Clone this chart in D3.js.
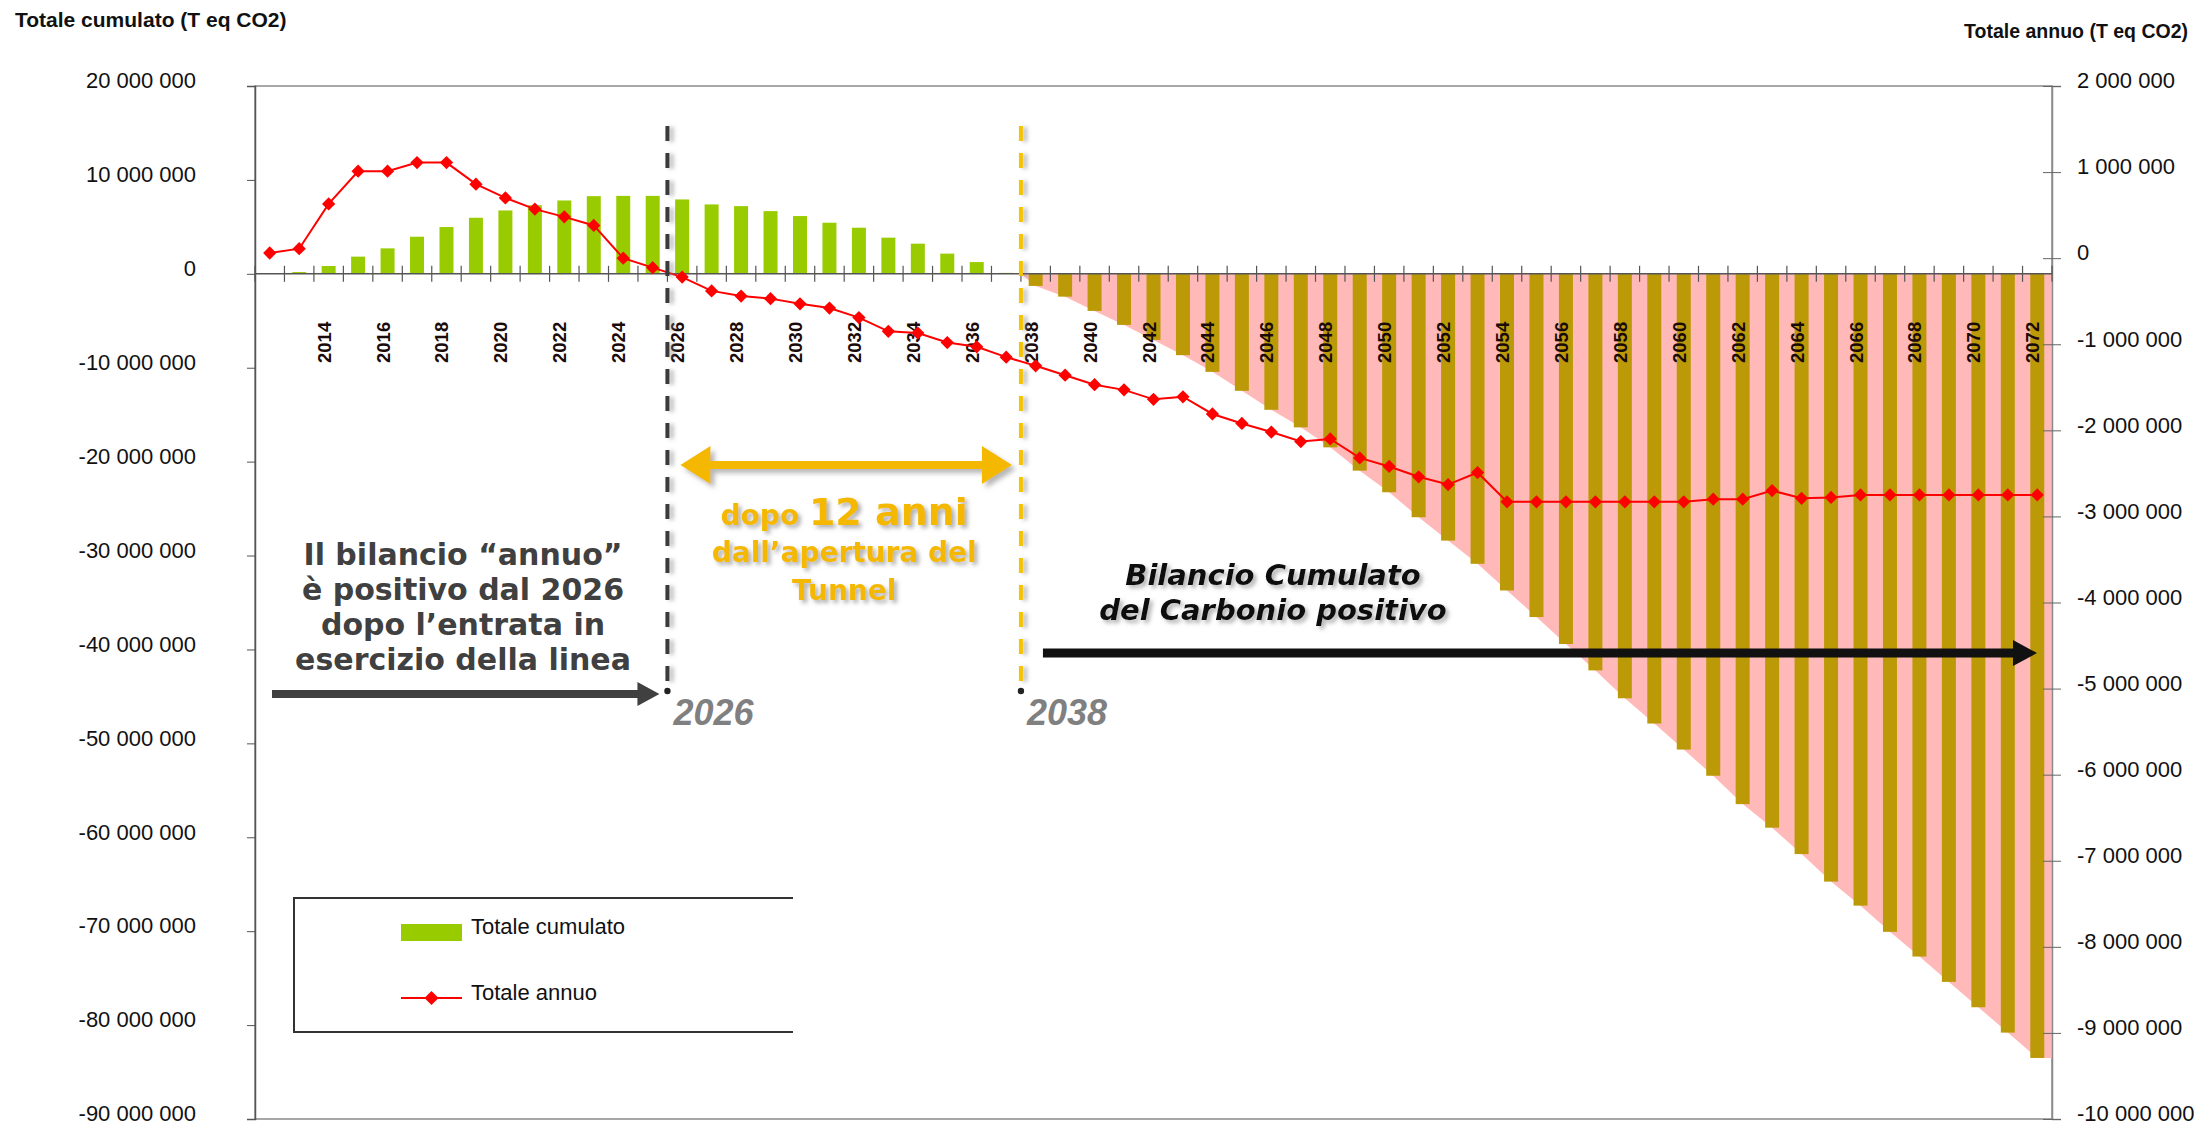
<!DOCTYPE html>
<html>
<head>
<meta charset="utf-8">
<script src="https://cdn.jsdelivr.net/npm/d3@7"></script>
<style>
  html, body { margin: 0; padding: 0; background: #fff; }
  svg { display: block; }
</style>
</head>
<body>
<svg id="chart" width="2209" height="1127"></svg>
<script>
// Categorie: anni
const years = [
  2012, 2013, 2014, 2015, 2016, 2017, 2018, 2019, 2020, 2021,
  2022, 2023, 2024, 2025, 2026, 2027, 2028, 2029, 2030, 2031,
  2032, 2033, 2034, 2035, 2036, 2037, 2038, 2039, 2040, 2041,
  2042, 2043, 2044, 2045, 2046, 2047, 2048, 2049, 2050, 2051,
  2052, 2053, 2054, 2055, 2056, 2057, 2058, 2059, 2060, 2061,
  2062, 2063, 2064, 2065, 2066, 2067, 2068, 2069, 2070, 2071, 2072
];

// Totale cumulato (T eq CO2) - asse sinistro
const totaleCumulato = [
  50000, 190000, 830000, 1830000, 2710000, 3950000, 4980000, 5970000, 6750000, 7300000,
  7810000, 8270000, 8300000, 8300000, 7920000, 7390000, 7210000, 6680000, 6150000, 5440000,
  4910000, 3850000, 3210000, 2150000, 1250000, 100000, -1290000, -2430000, -3950000, -5440000,
  -7040000, -8660000, -10440000, -12460000, -14480000, -16350000, -18480000, -20960000, -23260000, -25920000,
  -28410000, -30880000, -33720000, -36550000, -39420000, -42230000, -45200000, -47890000, -50660000, -53450000,
  -56470000, -58980000, -61790000, -64720000, -67280000, -70070000, -72700000, -75400000, -78100000, -80800000, -83500000
];

// Totale annuo (T eq CO2) - asse destro
const totaleAnnuo = [
  60000, 110000, 630000, 1010000, 1010000, 1110000, 1110000, 860000, 700000, 570000,
  480000, 380000, 0, -110000, -220000, -380000, -440000, -470000, -530000, -580000,
  -690000, -850000, -870000, -980000, -1030000, -1150000, -1250000, -1360000, -1470000, -1530000,
  -1640000, -1610000, -1810000, -1920000, -2020000, -2130000, -2100000, -2320000, -2420000, -2540000,
  -2630000, -2490000, -2830000, -2830000, -2830000, -2830000, -2830000, -2830000, -2830000, -2800000,
  -2800000, -2700000, -2790000, -2780000, -2750000, -2750000, -2750000, -2750000, -2750000, -2750000, -2750000
];

const leftTicks = [20000000, 10000000, 0, -10000000, -20000000, -30000000, -40000000,
                   -50000000, -60000000, -70000000, -80000000, -90000000];
const rightTicks = [2000000, 1000000, 0, -1000000, -2000000, -3000000, -4000000,
                    -5000000, -6000000, -7000000, -8000000, -9000000, -10000000];
const xTickYears = [2014, 2016, 2018, 2020, 2022, 2024, 2026, 2028, 2030, 2032,
                    2034, 2036, 2038, 2040, 2042, 2044, 2046, 2048, 2050, 2052,
                    2054, 2056, 2058, 2060, 2062, 2064, 2066, 2068, 2070, 2072];
const milestoneYears = [2026, 2038];

// ---- layout ----
const W = 2209, H = 1127;
const P = { left: 255, right: 2052, top: 86, bottom: 1119 };

const svg = d3.select("#chart");
const x = d3.scaleBand().domain(years).range([P.left, P.right]);
const yL = d3.scaleLinear().domain([-90000000, 20000000]).range([P.bottom, P.top]);
const yR = d3.scaleLinear().domain([-10000000, 2000000]).range([P.bottom, P.top]);
const cx = d => x(d) + x.bandwidth() / 2;
const val = (arr, yr) => arr[years.indexOf(yr)];

const itLocale = d3.formatLocale({ decimal: ",", thousands: " ", grouping: [3], currency: ["", " €"], minus: "-" });
const fmt = itLocale.format(",d");

const AXIS_FONT = "'Liberation Sans', Arial, sans-serif";
const NOTE_FONT = "'DejaVu Sans', Verdana, sans-serif";

// ---- filters (soft shadows of the annotations) ----
const defs = svg.append("defs");
function shadow(id, dx, dy, sd, op) {
  const f = defs.append("filter").attr("id", id)
    .attr("filterUnits", "userSpaceOnUse")
    .attr("x", 0).attr("y", 0).attr("width", W).attr("height", H);
  f.append("feDropShadow").attr("dx", dx).attr("dy", dy)
    .attr("stdDeviation", sd).attr("flood-color", "#7a7a7a").attr("flood-opacity", op);
}
shadow("shLine", 4, 1, 2, 0.55);
shadow("shText", 3, 3, 2, 0.6);
shadow("shArrow", 4, 4, 2.5, 0.55);

// ---- titles ----
svg.append("text").attr("x", 15).attr("y", 27)
  .attr("font-family", AXIS_FONT).attr("font-weight", "bold").attr("font-size", 21)
  .attr("fill", "#111").text("Totale cumulato (T eq CO2)");
svg.append("text").attr("x", 2188).attr("y", 38).attr("text-anchor", "end")
  .attr("font-family", AXIS_FONT).attr("font-weight", "bold").attr("font-size", 19.5)
  .attr("fill", "#111").text("Totale annuo (T eq CO2)");

// ---- plot frame ----
svg.append("rect")
  .attr("x", P.left).attr("y", P.top)
  .attr("width", P.right - P.left).attr("height", P.bottom - P.top)
  .attr("fill", "none").attr("stroke", "#8a8a8a").attr("stroke-width", 1.5);

// ---- pink area under the negative cumulative balance ----
const negYears = years.filter(yr => val(totaleCumulato, yr) < 0);
const lastYear = years[years.length - 1];
const areaPts = [{ px: x(negYears[0]), v: 0 }]
  .concat(negYears.map(yr => ({ px: cx(yr), v: val(totaleCumulato, yr) })))
  .concat([{ px: P.right, v: val(totaleCumulato, lastYear) }]);
svg.append("path")
  .datum(areaPts)
  .attr("fill", "#ffb9b9")
  .attr("d", d3.area().x(d => d.px).y0(yL(0)).y1(d => yL(d.v)));

// ---- cumulative bars ----
const barW = 14;
svg.append("g").selectAll("rect")
  .data(years)
  .join("rect")
  .attr("x", d => cx(d) - barW / 2)
  .attr("width", barW)
  .attr("y", d => yL(Math.max(0, val(totaleCumulato, d))))
  .attr("height", d => Math.abs(yL(val(totaleCumulato, d)) - yL(0)))
  .attr("fill", d => val(totaleCumulato, d) >= 0 ? "#99cc00" : "#bc9a07");

// ---- left axis ----
const gL = svg.append("g").attr("transform", `translate(${P.left},0)`)
  .call(d3.axisLeft(yL).tickValues(leftTicks).tickFormat(fmt).tickSize(8).tickPadding(51));
gL.select(".domain").attr("stroke", "#555").attr("stroke-width", 1.5);
gL.selectAll(".tick line").attr("stroke", "#555");
gL.selectAll(".tick text").attr("dy", "0.08em")
  .attr("font-family", AXIS_FONT).attr("font-size", 22).attr("fill", "#111");

// ---- right axis ----
const gR = svg.append("g").attr("transform", `translate(${P.right},0)`)
  .call(d3.axisRight(yR).tickValues(rightTicks).tickFormat(fmt).tickSize(9).tickPadding(16));
gR.select(".domain").attr("stroke", "#8a8a8a").attr("stroke-width", 1.5);
gR.selectAll(".tick line").attr("x1", -9).attr("stroke", "#666");
gR.selectAll(".tick text").attr("dy", "0.08em")
  .attr("font-family", AXIS_FONT).attr("font-size", 22).attr("fill", "#111");

// ---- category axis at zero of the cumulative scale ----
const y0 = yL(0);
svg.append("line").attr("x1", P.left).attr("x2", P.right).attr("y1", y0).attr("y2", y0)
  .attr("stroke", "#555").attr("stroke-width", 1.5);
const boundaries = years.map(yr => x(yr)).concat([P.right]);
svg.append("g").selectAll("line").data(boundaries).join("line")
  .attr("x1", d => d).attr("x2", d => d)
  .attr("y1", y0 - 8).attr("y2", y0 + 8)
  .attr("stroke", "#555").attr("stroke-width", 1.2);

const gX = svg.append("g").attr("transform", `translate(0,${y0})`)
  .call(d3.axisBottom(x).tickValues(xTickYears).tickSize(0).tickPadding(0));
gX.select(".domain").remove();
gX.selectAll(".tick text")
  .attr("transform", "rotate(-90)")
  .attr("x", -48).attr("y", 2).attr("dy", 0)
  .attr("text-anchor", "end")
  .attr("font-family", AXIS_FONT).attr("font-weight", "bold").attr("font-size", 18.5)
  .attr("fill", "#1a0a0a");

// ---- annual balance line ----
svg.append("path")
  .datum(years)
  .attr("fill", "none").attr("stroke", "#ff0000").attr("stroke-width", 2)
  .attr("d", d3.line().x(d => cx(d)).y(d => yR(val(totaleAnnuo, d))));
svg.append("g").selectAll("path").data(years).join("path")
  .attr("d", d3.symbol(d3.symbolSquare, 88)())
  .attr("transform", d => `translate(${cx(d)},${yR(val(totaleAnnuo, d))}) rotate(45)`)
  .attr("fill", "#ff0000");

// ---- milestone dashed lines ----
const [yOpen, yPayback] = milestoneYears;
const lineTop = 126, lineBottom = 683, dotY = 691;
const msColor = ["#3a3a3a", "#f5c400"];
milestoneYears.forEach((yr, i) => {
  svg.append("line")
    .attr("x1", x(yr)).attr("x2", x(yr)).attr("y1", lineTop).attr("y2", lineBottom)
    .attr("stroke", msColor[i]).attr("stroke-width", 4)
    .attr("stroke-dasharray", "15 12")
    .attr("filter", "url(#shLine)");
  svg.append("circle").attr("cx", x(yr)).attr("cy", dotY).attr("r", 3.2).attr("fill", "#222");
  svg.append("text")
    .attr("x", x(yr) + 6).attr("y", 725)
    .attr("font-family", AXIS_FONT).attr("font-weight", "bold").attr("font-style", "italic")
    .attr("font-size", 36).attr("fill", "#808080")
    .text(yr);
});

// ---- arrows ----
function arrow(x1, x2, yc, shaft, headLen, headHalf, both) {
  const p = d3.path();
  const s = shaft / 2;
  if (both) {
    p.moveTo(x1, yc);
    p.lineTo(x1 + headLen, yc - headHalf);
    p.lineTo(x1 + headLen, yc - s);
  } else {
    p.moveTo(x1, yc - s);
  }
  p.lineTo(x2 - headLen, yc - s);
  p.lineTo(x2 - headLen, yc - headHalf);
  p.lineTo(x2, yc);
  p.lineTo(x2 - headLen, yc + headHalf);
  p.lineTo(x2 - headLen, yc + s);
  if (both) {
    p.lineTo(x1 + headLen, yc + s);
    p.lineTo(x1 + headLen, yc + headHalf);
  } else {
    p.lineTo(x1, yc + s);
  }
  p.closePath();
  return p.toString();
}

// gray arrow towards the opening year
svg.append("path").attr("d", arrow(272, x(yOpen) - 8, 694, 8, 22, 12, false)).attr("fill", "#404040");
// double yellow arrow between the two milestones
svg.append("path").attr("d", arrow(x(yOpen) + 13, x(yPayback) - 9, 465, 8, 30, 19, true))
  .attr("fill", "#f5b800").attr("filter", "url(#shArrow)");
// black arrow of the positive cumulative balance
svg.append("path").attr("d", arrow(x(yPayback) + 22, P.right - 15, 653, 9, 24, 13, false)).attr("fill", "#111");

// ---- notes ----
const grayNote = svg.append("text")
  .attr("font-family", NOTE_FONT).attr("font-weight", "bold").attr("font-size", 30)
  .attr("fill", "#404040").attr("text-anchor", "middle");
["Il bilancio “annuo”", "è positivo dal 2026", "dopo l’entrata in", "esercizio della linea"]
  .forEach((t, i) => grayNote.append("tspan").attr("x", 463).attr("y", 565 + i * 35).text(t));

const midX = (x(yOpen) + x(yPayback)) / 2;
const yellowNote = svg.append("g")
  .attr("font-family", NOTE_FONT).attr("font-weight", "bold")
  .attr("fill", "#f5b800").attr("text-anchor", "middle").attr("filter", "url(#shText)");
const l1 = yellowNote.append("text").attr("x", midX).attr("y", 525);
l1.append("tspan").attr("font-size", 28).text("dopo ");
l1.append("tspan").attr("font-size", 38).text("12 anni");
yellowNote.append("text").attr("x", midX).attr("y", 562).attr("font-size", 28).text("dall’apertura del");
yellowNote.append("text").attr("x", midX).attr("y", 600).attr("font-size", 28).text("Tunnel");

const blackNote = svg.append("text")
  .attr("font-family", NOTE_FONT).attr("font-weight", "bold").attr("font-style", "italic")
  .attr("font-size", 29).attr("fill", "#111").attr("text-anchor", "middle")
  .attr("filter", "url(#shText)");
["Bilancio Cumulato", "del Carbonio positivo"]
  .forEach((t, i) => blackNote.append("tspan").attr("x", 1273).attr("y", 585 + i * 35).text(t));

// ---- legend ----
const lg = svg.append("g");
lg.append("path")
  .attr("d", "M793,898 H294 V1032 H793")
  .attr("fill", "none").attr("stroke", "#333").attr("stroke-width", 2);
lg.append("rect").attr("x", 401).attr("y", 924).attr("width", 61).attr("height", 17).attr("fill", "#99cc00");
lg.append("line").attr("x1", 401).attr("x2", 462).attr("y1", 998).attr("y2", 998)
  .attr("stroke", "#ff0000").attr("stroke-width", 2);
lg.append("path").attr("d", d3.symbol(d3.symbolSquare, 100)())
  .attr("transform", "translate(431.5,998) rotate(45)").attr("fill", "#ff0000");
lg.append("text").attr("x", 471).attr("y", 934)
  .attr("font-family", AXIS_FONT).attr("font-size", 22).attr("fill", "#111").text("Totale cumulato");
lg.append("text").attr("x", 471).attr("y", 1000)
  .attr("font-family", AXIS_FONT).attr("font-size", 22).attr("fill", "#111").text("Totale annuo");
</script>
</body>
</html>
